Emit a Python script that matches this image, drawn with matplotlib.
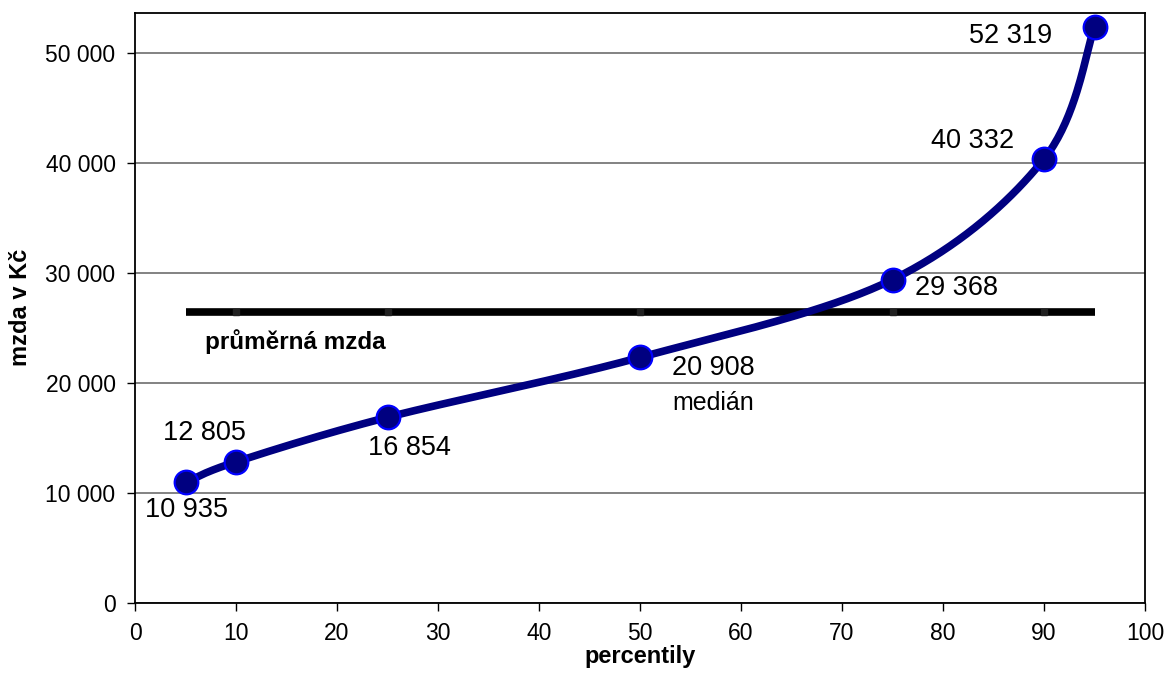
import numpy as np
import matplotlib
matplotlib.use("Agg")
import matplotlib.pyplot as plt
from matplotlib.ticker import FuncFormatter

plt.rcParams['font.family'] = ['Liberation Sans', 'DejaVu Sans']

percentiles = [5, 10, 25, 50, 75, 90, 95]
wages = [10935, 12805, 16854, 22300, 29368, 40332, 52319]
wage_labels = ["10 935", "12 805", "16 854", "20 908", "29 368", "40 332", "52 319"]
average_wage = 26400
average_x = [5, 10, 25, 50, 75, 90, 95]

# label offsets in pixels from the point (x, y), horizontal alignment
label_pos = [(1, -28, 'center'), (-32, 29, 'center'), (22, -31, 'center'),
             (32, -11, 'left'), (22, -8, 'left'), (-30, 18, 'right'), (-42, -9, 'right')]


def smooth(xs, ys, n=40):
    # excel-like smoothed line: bezier segments with catmull-rom control points
    p = np.column_stack([xs, ys]).astype(float)
    out = []
    for i in range(len(p) - 1):
        p0 = p[i - 1] if i > 0 else p[i]
        p3 = p[i + 2] if i + 2 < len(p) else p[i + 1]
        c1 = p[i] + (p[i + 1] - p0) / 6
        c2 = p[i + 1] - (p3 - p[i]) / 6
        t = np.linspace(0, 1, n)[:, None]
        seg = ((1 - t) ** 3 * p[i] + 3 * (1 - t) ** 2 * t * c1
               + 3 * (1 - t) * t ** 2 * c2 + t ** 3 * p[i + 1])
        out.append(seg if i == 0 else seg[1:])
    out = np.vstack(out)
    return out[:, 0], out[:, 1]


fig = plt.figure(figsize=(11.66, 6.77), dpi=100)
ax = fig.add_axes([0.1158, 0.1097, 0.8662, 0.8711])

ax.set_xlim(0, 100)
ax.set_ylim(0, 53600)
ax.set_xticks(range(0, 101, 10))
ax.set_yticks(range(0, 50001, 10000))
ax.yaxis.set_major_formatter(FuncFormatter(lambda v, p: f"{int(v):,}".replace(",", " ")))
ax.grid(axis='y', color='#606060', lw=1.1)
ax.set_axisbelow(True)
for s in ax.spines.values():
    s.set_linewidth(1.3)
ax.tick_params(direction='out', length=6, width=1, labelsize=16.5, pad=8)

ax.plot([average_x[0], average_x[-1]], [average_wage, average_wage], color='black', lw=5.5, solid_capstyle='butt')
ax.plot(average_x[1:-1], [average_wage] * 5, ls='none', marker='s', ms=4, color='#202020')
ax.text(6.9, 23700, "průměrná mzda", fontsize=17.5, fontweight='bold', ha='left', va='center')

sx, sy = smooth(percentiles, wages)
ax.plot(sx, sy, color='#000080', lw=5.5, solid_capstyle='round', zorder=3)
ax.plot(percentiles, wages, ls='none', marker='o', ms=17, mfc='#000080', mec='#0000FF', mew=1.6, zorder=4)

for x, y, lab, (dx, dy, ha) in zip(percentiles, wages, wage_labels, label_pos):
    ax.annotate(lab, (x, y), xytext=(dx, dy), textcoords='offset pixels',
                ha=ha, va='center', fontsize=19.5)
ax.annotate("medián", (50, wages[3]), xytext=(73, -46), textcoords='offset pixels',
            ha='center', va='center', fontsize=18)

ax.set_xlabel("percentily", fontsize=17, fontweight='bold', labelpad=0)
ax.set_ylabel("mzda v Kč", fontsize=17, fontweight='bold', labelpad=10)

fig.savefig("out.png", dpi=100)
